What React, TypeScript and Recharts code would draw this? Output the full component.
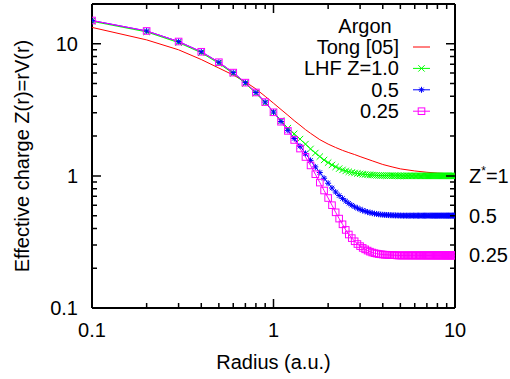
import React from 'react';
import { LineChart, Line, XAxis, YAxis, Legend, ReferenceDot, ReferenceLine } from 'recharts';

const R_LHF = [
  0.1, 0.2, 0.3, 0.4, 0.5, 0.6, 0.7, 0.8, 0.9, 1.0,
  1.1, 1.2, 1.3, 1.4, 1.5, 1.6, 1.7, 1.8, 1.9, 2.0,
  2.1, 2.2, 2.3, 2.4, 2.5, 2.6, 2.7, 2.8, 2.9, 3.0,
  3.1, 3.2, 3.3, 3.4, 3.5, 3.6, 3.7, 3.8, 3.9, 4.0,
  4.1, 4.2, 4.3, 4.4, 4.5, 4.6, 4.7, 4.8, 4.9, 5.0,
  5.1, 5.2, 5.3, 5.4, 5.5, 5.6, 5.7, 5.8, 5.9, 6.0,
  6.1, 6.2, 6.3, 6.4, 6.5, 6.6, 6.7, 6.8, 6.9, 7.0,
  7.1, 7.2, 7.3, 7.4, 7.5, 7.6, 7.7, 7.8, 7.9, 8.0,
  8.1, 8.2, 8.3, 8.4, 8.5, 8.6, 8.7, 8.8, 8.9, 9.0,
  9.1, 9.2, 9.3, 9.4, 9.5, 9.6, 9.7, 9.8, 9.9, 10.0,
];

const Z_LHF_1 = [
  14.8, 12.3, 10.2, 8.55, 7.1, 5.95, 5.0, 4.22, 3.58, 3.04,
  2.62, 2.3, 2.08, 1.9, 1.74, 1.6, 1.49, 1.4, 1.32, 1.26,
  1.21, 1.17, 1.135, 1.11, 1.09, 1.075, 1.062, 1.052, 1.043, 1.036,
  1.03, 1.025, 1.021, 1.018, 1.015, 1.012, 1.01, 1.008, 1.007, 1.006,
  1.005, 1.004, 1.003, 1.003, 1.002, 1.002, 1.002, 1.001, 1.001, 1.001,
  1.0, 1.0, 1.0, 1.0, 1.0, 1.0, 1.0, 1.0, 1.0, 1.0,
  1.0, 1.0, 1.0, 1.0, 1.0, 1.0, 1.0, 1.0, 1.0, 1.0,
  1.0, 1.0, 1.0, 1.0, 1.0, 1.0, 1.0, 1.0, 1.0, 1.0,
  1.0, 1.0, 1.0, 1.0, 1.0, 1.0, 1.0, 1.0, 1.0, 1.0,
  1.0, 1.0, 1.0, 1.0, 1.0, 1.0, 1.0, 1.0, 1.0, 1.0,
];

const Z_LHF_05 = [
  15.0, 12.5, 10.4, 8.7, 7.25, 6.05, 5.08, 4.28, 3.62, 3.04,
  2.58, 2.21, 1.92, 1.68, 1.48, 1.31, 1.17, 1.06, 0.96, 0.88,
  0.81, 0.755, 0.71, 0.675, 0.645, 0.62, 0.6, 0.583, 0.57, 0.558,
  0.548, 0.54, 0.533, 0.527, 0.522, 0.518, 0.515, 0.512, 0.51, 0.508,
  0.507, 0.506, 0.505, 0.504, 0.503, 0.503, 0.502, 0.502, 0.501, 0.501,
  0.5, 0.5, 0.5, 0.5, 0.5, 0.5, 0.5, 0.5, 0.5, 0.5,
  0.5, 0.5, 0.5, 0.5, 0.5, 0.5, 0.5, 0.5, 0.5, 0.5,
  0.5, 0.5, 0.5, 0.5, 0.5, 0.5, 0.5, 0.5, 0.5, 0.5,
  0.5, 0.5, 0.5, 0.5, 0.5, 0.5, 0.5, 0.5, 0.5, 0.5,
  0.5, 0.5, 0.5, 0.5, 0.5, 0.5, 0.5, 0.5, 0.5, 0.5,
];

const Z_LHF_025 = [
  15.0, 12.5, 10.4, 8.7, 7.25, 6.05, 5.08, 4.28, 3.62, 3.03,
  2.57, 2.19, 1.87, 1.61, 1.39, 1.2, 1.03, 0.89, 0.775, 0.68,
  0.6, 0.53, 0.475, 0.43, 0.39, 0.36, 0.338, 0.32, 0.305, 0.294,
  0.285, 0.278, 0.272, 0.267, 0.263, 0.26, 0.258, 0.256, 0.255, 0.254,
  0.253, 0.253, 0.252, 0.252, 0.251, 0.251, 0.251, 0.25, 0.25, 0.25,
  0.25, 0.25, 0.25, 0.25, 0.25, 0.25, 0.25, 0.25, 0.25, 0.25,
  0.25, 0.25, 0.25, 0.25, 0.25, 0.25, 0.25, 0.25, 0.25, 0.25,
  0.25, 0.25, 0.25, 0.25, 0.25, 0.25, 0.25, 0.25, 0.25, 0.25,
  0.25, 0.25, 0.25, 0.25, 0.25, 0.25, 0.25, 0.25, 0.25, 0.25,
  0.25, 0.25, 0.25, 0.25, 0.25, 0.25, 0.25, 0.25, 0.25, 0.25,
];

const R_TONG = [
  0.1, 0.2, 0.3, 0.4, 0.5, 0.6, 0.7, 0.8, 0.9, 1.0,
  1.1, 1.2, 1.3, 1.4, 1.5, 1.6, 1.8, 2.0, 2.2, 2.4,
  2.6, 2.8, 3.0, 3.5, 4.0, 4.5, 5.0, 6.0, 7.0, 8.0, 9.0, 10.0,
];
const Z_TONG = [
  13.3, 10.7, 9.0, 7.6, 6.55, 5.8, 5.15, 4.55, 4.0, 3.55,
  3.18, 2.88, 2.62, 2.42, 2.24, 2.1, 1.88, 1.74, 1.64, 1.56,
  1.5, 1.45, 1.4, 1.3, 1.22, 1.17, 1.13, 1.09, 1.065, 1.05, 1.04, 1.03,
];

const LOG_TICKS = [0.1, 0.2, 0.3, 0.4, 0.5, 0.6, 0.7, 0.8, 0.9, 1, 2, 3, 4, 5, 6, 7, 8, 9, 10];
const MAJOR_TICKS = [0.1, 1, 10];
const MAJOR_LABELS = ['0.1', '1', '10'];
const X_DOMAIN = [0.1, 10];
const Y_DOMAIN = [0.1, 20];

const LEGEND_TITLE = 'Argon';
const SERIES_NAMES = ['Tong [05]', 'LHF Z=1.0', '0.5', '0.25'];
const SERIES_COLORS = ['#ff0000', '#00ff00', '#0000ff', '#ff00ff'];
const SERIES_MARKERS = ['none', 'cross', 'star', 'square'];
const ASYMPTOTES = [1, 0.5, 0.25];
const ASYMPTOTE_LABELS = ['=1', '0.5', '0.25'];

const X_TITLE = 'Radius (a.u.)';
const Y_TITLE = 'Effective charge Z(r)=rV(r)';

const FONT = '"Liberation Sans", Arial, Helvetica, sans-serif';
const FS = 20;

// chart layout
const CHART_W = 510;
const CHART_H = 379;
const MARGIN = { top: 4, right: 55, bottom: 0, left: 0 };
const Y_AXIS_W = 92;
const X_AXIS_H = 71;
const PLOT_TOP = MARGIN.top;
const PLOT_RIGHT = CHART_W - MARGIN.right;

const lhfData = R_LHF.map((r, i) => ({ r, z1: Z_LHF_1[i], z05: Z_LHF_05[i], z025: Z_LHF_025[i] }));
const tongData = R_TONG.map((r, i) => ({ r, z: Z_TONG[i] }));

function markerShape(kind: string, cx: number, cy: number, color: string, key?: any) {
  if (kind === 'cross') {
    const s = 3.2;
    return (
      <path key={key} d={`M${cx - s},${cy - s}L${cx + s},${cy + s}M${cx - s},${cy + s}L${cx + s},${cy - s}`}
        stroke={color} strokeWidth={1} fill="none" />
    );
  }
  if (kind === 'star') {
    const s = 3;
    const d = 2.2;
    return (
      <path key={key}
        d={`M${cx - s},${cy}L${cx + s},${cy}M${cx},${cy - s}L${cx},${cy + s}M${cx - d},${cy - d}L${cx + d},${cy + d}M${cx - d},${cy + d}L${cx + d},${cy - d}`}
        stroke={color} strokeWidth={1} fill="none" />
    );
  }
  if (kind === 'square') {
    const s = 3.3;
    return <rect key={key} x={cx - s} y={cy - s} width={2 * s} height={2 * s} stroke={color} strokeWidth={1} fill="none" />;
  }
  return <g key={key} />;
}

const makeDot = (kind: string, color: string) => (props: any) => {
  const { cx, cy, index } = props;
  if (cx == null || cy == null) return <g key={`d-${index}`} />;
  return markerShape(kind, cx, cy, color, `d-${kind}-${index}`);
};

const isMajor = (v: number) => MAJOR_TICKS.indexOf(v) >= 0;
const labelOf = (v: number) => MAJOR_LABELS[MAJOR_TICKS.indexOf(v)];

const TICK_COLOR = '#000000';
const TICK_W = 1.5;

const BottomTick = (props: any) => {
  const { x, y, payload } = props;
  const v = payload.value;
  const len = isMajor(v) ? 9 : 5;
  const d = `M${x},${y}L${x},${y - len}M${x},${PLOT_TOP}L${x},${PLOT_TOP + len}`;
  return (
    <g>
      <path d={d} stroke={TICK_COLOR} strokeWidth={TICK_W} fill="none" />
      {isMajor(v) && (
        <text x={x} y={y + 22} dy="0.35em" textAnchor="middle" fontFamily={FONT} fontSize={FS} fill="#000">
          {labelOf(v)}
        </text>
      )}
    </g>
  );
};

const LeftTick = (props: any) => {
  const { x, y, payload } = props;
  const v = payload.value;
  const len = isMajor(v) ? 9 : 5;
  const d = `M${x},${y}L${x + len},${y}M${PLOT_RIGHT},${y}L${PLOT_RIGHT - len},${y}`;
  return (
    <g>
      <path d={d} stroke={TICK_COLOR} strokeWidth={TICK_W} fill="none" />
      {isMajor(v) && (
        <text x={x - 14} y={y} dy="0.35em" textAnchor="end" fontFamily={FONT} fontSize={FS} fill="#000">
          {labelOf(v)}
        </text>
      )}
    </g>
  );
};

const renderLegend = () => (
  <svg width={160} height={115} style={{ overflow: 'visible', display: 'block' }}>
    <text x={75} y={16} dy="0.35em" textAnchor="middle" fontFamily={FONT} fontSize={FS} fill="#000">
      {LEGEND_TITLE}
    </text>
    {SERIES_NAMES.map((name, i) => {
      const y = 37 + i * 21.4;
      return (
        <g key={name}>
          <text x={109} y={y} dy="0.35em" textAnchor="end" fontFamily={FONT} fontSize={FS} fill="#000">
            {name}
          </text>
          <line x1={123} x2={140} y1={y} y2={y} stroke={SERIES_COLORS[i]} strokeWidth={1} />
          {markerShape(SERIES_MARKERS[i], 131.5, y, SERIES_COLORS[i])}
        </g>
      );
    })}
  </svg>
);

const yTitle = (p: any) => {
  const vb = p.viewBox;
  const cx = vb.x + 22;
  const cy = vb.y + vb.height / 2;
  return (
    <text x={cx} y={cy} dy="0.35em" textAnchor="middle" transform={`rotate(-90 ${cx} ${cy})`}
      fontFamily={FONT} fontSize={FS} fill="#000">
      {Y_TITLE}
    </text>
  );
};

const xTitle = (p: any) => {
  const vb = p.viewBox;
  return (
    <text x={vb.x + vb.width / 2} y={vb.y + 54} dy="0.35em" textAnchor="middle" fontFamily={FONT} fontSize={FS} fill="#000">
      {X_TITLE}
    </text>
  );
};

const asymLabel = (i: number) => (p: any) => {
  const vb = p.viewBox;
  const x = vb.x + vb.width + 13;
  const y = vb.y + vb.height / 2;
  if (i === 0) {
    return (
      <text x={x} y={y} dy="0.35em" fontFamily={FONT} fontSize={FS} fill="#000">
        <tspan>Z</tspan>
        <tspan dy={-8} fontSize={12}>*</tspan>
        <tspan dy={8}>{ASYMPTOTE_LABELS[0]}</tspan>
      </text>
    );
  }
  return (
    <text x={x} y={y} dy="0.35em" fontFamily={FONT} fontSize={FS} fill="#000">
      {ASYMPTOTE_LABELS[i]}
    </text>
  );
};

const FRAME = { stroke: '#000000', strokeWidth: 2, ifOverflow: 'visible' as const };

export default function App() {
  const lhfKeys = ['z1', 'z05', 'z025'];
  return (
    <div style={{ position: 'absolute', left: 0, top: 0, background: '#fff' }}>
      <LineChart width={CHART_W} height={CHART_H} margin={MARGIN}>
        <XAxis
          dataKey="r"
          type="number"
          scale="log"
          domain={X_DOMAIN}
          allowDataOverflow
          ticks={LOG_TICKS}
          interval={0}
          height={X_AXIS_H}
          tickSize={0}
          tickMargin={0}
          tickLine={false}
          axisLine={false}
          tick={BottomTick}
          label={{ content: xTitle }}
        />
        <YAxis
          type="number"
          scale="log"
          domain={Y_DOMAIN}
          allowDataOverflow
          ticks={LOG_TICKS}
          interval={0}
          width={Y_AXIS_W}
          tickSize={0}
          tickMargin={0}
          tickLine={false}
          axisLine={false}
          tick={LeftTick}
          label={{ content: yTitle }}
        />
        <ReferenceLine x={X_DOMAIN[0]} {...FRAME} />
        <ReferenceLine x={X_DOMAIN[1]} {...FRAME} />
        <ReferenceLine y={Y_DOMAIN[0]} {...FRAME} />
        <ReferenceLine y={Y_DOMAIN[1]} {...FRAME} />
        <Line
          data={tongData}
          dataKey="z"
          type="linear"
          stroke={SERIES_COLORS[0]}
          strokeWidth={1}
          dot={false}
          activeDot={false}
          isAnimationActive={false}
        />
        {lhfKeys.map((k, i) => (
          <Line
            key={k}
            data={lhfData}
            dataKey={k}
            type="linear"
            stroke={SERIES_COLORS[i + 1]}
            strokeWidth={1}
            dot={makeDot(SERIES_MARKERS[i + 1], SERIES_COLORS[i + 1])}
            activeDot={false}
            isAnimationActive={false}
          />
        ))}
        {ASYMPTOTES.map((a, i) => (
          <ReferenceDot key={`a${i}`} x={10} y={a} r={1} fill="none" stroke="none" label={{ content: asymLabel(i) }} />
        ))}
        <Legend
          layout="horizontal"
          verticalAlign="middle"
          align="center"
          content={renderLegend}
          wrapperStyle={{ left: 290, top: 10, width: 160, height: 115 }}
        />
      </LineChart>
    </div>
  );
}
